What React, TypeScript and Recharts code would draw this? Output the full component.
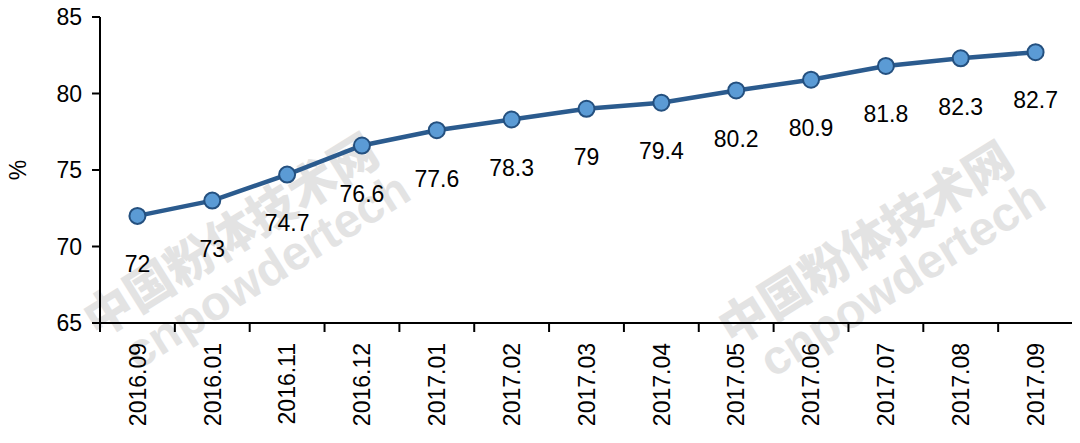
import React from "react";
import { LineChart, Line, XAxis, YAxis, LabelList } from "recharts";

const categories = ["2016.09","2016.01","2016.11","2016.12","2017.01","2017.02","2017.03","2017.04","2017.05","2017.06","2017.07","2017.08","2017.09"];
const values = [72, 73, 74.7, 76.6, 77.6, 78.3, 79, 79.4, 80.2, 80.9, 81.8, 82.3, 82.7];
const yTicks = [65, 70, 75, 80, 85];

const data = categories.map((c, i) => ({ pos: i + 0.5, month: c, value: values[i] }));
const boundaryTicks = categories.map((_, i) => i).concat([categories.length]);
const centerTicks = categories.map((_, i) => i + 0.5);

const FONT = "'Liberation Sans', Arial, sans-serif";
const FS = 23;

const XLabel = (props: any) => {
  const { x, y, payload } = props;
  const label = categories[Math.floor(payload.value)];
  const ty = y + 11;
  return (
    <text x={x} y={ty} transform={`rotate(-90, ${x}, ${ty})`} textAnchor="end" dy="0.36em"
      fontSize={FS} fontFamily={FONT} fill="#000">{label}</text>
  );
};

const NoLabel = () => <g />;

const YLabel = (props: any) => {
  const { x, y, payload } = props;
  return (
    <text x={x} y={y} textAnchor="end" dy="0.36em" fontSize={FS} fontFamily={FONT} fill="#000">{payload.value}</text>
  );
};

const AxisTitle = (props: any) => {
  const vb = props.viewBox || {};
  const cx = 18;
  const cy = (vb.y || 0) + (vb.height || 0) / 2;
  return (
    <text x={cx} y={cy} transform={`rotate(-90, ${cx}, ${cy})`} textAnchor="middle" dy="0.36em"
      fontSize={FS} fontFamily={FONT} fill="#000">%</text>
  );
};

const ValueLabel = (props: any) => {
  const { x, y, value } = props;
  return (
    <text x={x} y={y + 48} textAnchor="middle" dy="0.36em" fontSize={FS} fontFamily={FONT} fill="#000">{value}</text>
  );
};

const Watermark = ({ cx, cy }: { cx: number; cy: number }) => (
  <g transform={`rotate(-32, ${cx}, ${cy})`} fill="#e3e3e3" fontFamily="'Noto Sans CJK SC', 'DejaVu Sans', sans-serif" fontWeight={900}>
    <text x={cx} y={cy} textAnchor="middle" fontSize={48}>中国粉体技术网</text>
    <text x={cx + 12} y={cy + 48} textAnchor="middle" fontSize={48} fontFamily={FONT} fontWeight={700}>cnpowdertech</text>
  </g>
);

export default function App() {
  return (
    <div style={{ position: "relative", width: 1080, height: 443, margin: -8, background: "#fff" }}>
      <svg width={1080} height={443} style={{ position: "absolute", left: 0, top: 0 }}>
        <Watermark cx={240} cy={250} />
        <Watermark cx={875} cy={258} />
      </svg>
      <div style={{ position: "absolute", left: 0, top: 0 }}>
        <LineChart width={1080} height={443} data={data} margin={{ top: 17, right: 7, bottom: 0, left: 0 }}>
          <XAxis xAxisId="a" dataKey="pos" type="number" domain={[0, categories.length]} ticks={boundaryTicks}
            tick={<NoLabel />} tickSize={9} height={1} interval={0}
            axisLine={{ stroke: "#000", strokeWidth: 2 }} tickLine={{ stroke: "#000", strokeWidth: 2 }} />
          <XAxis xAxisId="b" dataKey="pos" type="number" domain={[0, categories.length]} ticks={centerTicks}
            tick={<XLabel />} tickLine={false} axisLine={false} height={119} interval={0} />
          <YAxis domain={[65, 85]} ticks={yTicks} width={100} tickSize={8} tickMargin={10}
            axisLine={{ stroke: "#000", strokeWidth: 2 }} tickLine={{ stroke: "#000", strokeWidth: 2 }}
            tick={<YLabel />} interval={0}
            label={<AxisTitle />} />
          <Line xAxisId="a" dataKey="value" stroke="#2b5b8e" strokeWidth={4.5} isAnimationActive={false}
            dot={{ r: 8, fill: "#5b9bd5", stroke: "#24507f", strokeWidth: 2 }}>
            <LabelList dataKey="value" content={<ValueLabel />} />
          </Line>
        </LineChart>
      </div>
    </div>
  );
}
